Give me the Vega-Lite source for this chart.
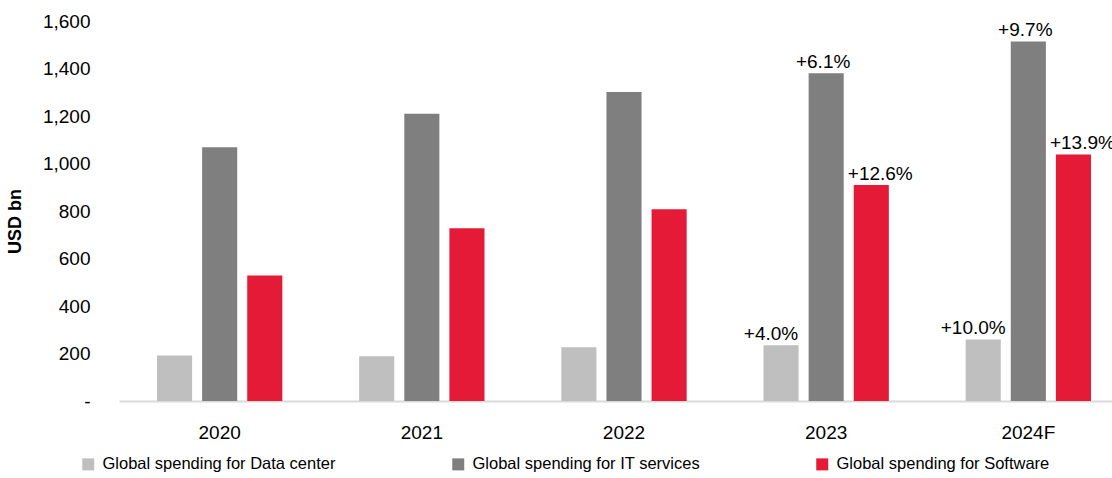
{
  "$schema": "https://vega.github.io/schema/vega-lite/v6.json",
  "width": 1010,
  "height": 380,
  "autosize": {"type": "none"},
  "padding": {"left": 119, "top": 21, "right": 0, "bottom": 77},
  "background": "white",
  "config": {
    "view": {"stroke": null},
    "font": "Liberation Sans"
  },
  "data": {
    "values": [
      {"year": "2020", "series": "Global spending for Data center", "value": 192, "label": ""},
      {"year": "2020", "series": "Global spending for IT services", "value": 1068, "label": ""},
      {"year": "2020", "series": "Global spending for Software", "value": 528, "label": ""},
      {"year": "2021", "series": "Global spending for Data center", "value": 188, "label": ""},
      {"year": "2021", "series": "Global spending for IT services", "value": 1209, "label": ""},
      {"year": "2021", "series": "Global spending for Software", "value": 727, "label": ""},
      {"year": "2022", "series": "Global spending for Data center", "value": 226, "label": ""},
      {"year": "2022", "series": "Global spending for IT services", "value": 1301, "label": ""},
      {"year": "2022", "series": "Global spending for Software", "value": 807, "label": ""},
      {"year": "2023", "series": "Global spending for Data center", "value": 235, "label": "+4.0%"},
      {"year": "2023", "series": "Global spending for IT services", "value": 1380, "label": "+6.1%"},
      {"year": "2023", "series": "Global spending for Software", "value": 910, "label": "+12.6%"},
      {"year": "2024F", "series": "Global spending for Data center", "value": 259, "label": "+10.0%"},
      {"year": "2024F", "series": "Global spending for IT services", "value": 1514, "label": "+9.7%"},
      {"year": "2024F", "series": "Global spending for Software", "value": 1038, "label": "+13.9%"}
    ]
  },
  "encoding": {
    "x": {
      "field": "year",
      "type": "nominal",
      "sort": null,
      "scale": {"paddingInner": 0.38, "paddingOuter": 0.188},
      "axis": {
        "title": null,
        "labelAngle": 0,
        "ticks": false,
        "domainColor": "#d9d9d9",
        "domainWidth": 2,
        "labelFontSize": 19,
        "labelColor": "#000000",
        "labelPadding": 22
      }
    },
    "xOffset": {
      "field": "series",
      "sort": ["Global spending for Data center", "Global spending for IT services", "Global spending for Software"],
      "scale": {"paddingInner": 0.222, "paddingOuter": 0}
    },
    "y": {
      "field": "value",
      "type": "quantitative",
      "scale": {"domain": [0, 1600], "nice": false},
      "axis": {
        "values": [0, 200, 400, 600, 800, 1000, 1200, 1400, 1600],
        "labelExpr": "datum.value == 0 ? '-' : format(datum.value, ',')",
        "grid": false,
        "domain": false,
        "ticks": false,
        "labelPadding": 29,
        "labelFontSize": 19,
        "labelColor": "#000000",
        "title": "USD bn",
        "titleFontSize": 18,
        "titleFontWeight": "bold",
        "titleColor": "#000000",
        "titleX": -104,
        "titleY": 200,
        "titleBaseline": "middle",
        "titleAlign": "center",
        "titleAngle": -90
      }
    }
  },
  "layer": [
    {
      "mark": {"type": "bar"},
      "encoding": {
        "color": {
          "field": "series",
          "type": "nominal",
          "sort": ["Global spending for Data center", "Global spending for IT services", "Global spending for Software"],
          "scale": {
            "domain": ["Global spending for Data center", "Global spending for IT services", "Global spending for Software"],
            "range": ["#bfbfbf", "#7f7f7f", "#e41a37"]
          },
          "legend": {
            "title": null,
            "orient": "none",
            "direction": "horizontal",
            "legendX": -39,
            "legendY": 435,
            "symbolType": "square",
            "symbolSize": 144,
            "symbolStrokeWidth": 0,
            "symbolOpacity": 1,
            "labelFontSize": 16.5,
            "labelColor": "#000000",
            "labelLimit": 0,
            "labelOffset": 6,
            "columnPadding": 114
          }
        }
      }
    },
    {
      "transform": [{"filter": "datum.series == 'Global spending for Data center' && datum.label != ''"}],
      "mark": {"type": "text", "baseline": "bottom", "dy": -1, "dx": -10, "fontSize": 19, "color": "#000000"},
      "encoding": {"text": {"field": "label"}}
    },
    {
      "transform": [{"filter": "datum.series == 'Global spending for IT services' && datum.label != ''"}],
      "mark": {"type": "text", "baseline": "bottom", "dy": -1, "dx": -3, "fontSize": 19, "color": "#000000"},
      "encoding": {"text": {"field": "label"}}
    },
    {
      "transform": [{"filter": "datum.series == 'Global spending for Software' && datum.label != ''"}],
      "mark": {"type": "text", "baseline": "bottom", "dy": -1, "dx": 9, "fontSize": 19, "color": "#000000"},
      "encoding": {"text": {"field": "label"}}
    }
  ]
}
